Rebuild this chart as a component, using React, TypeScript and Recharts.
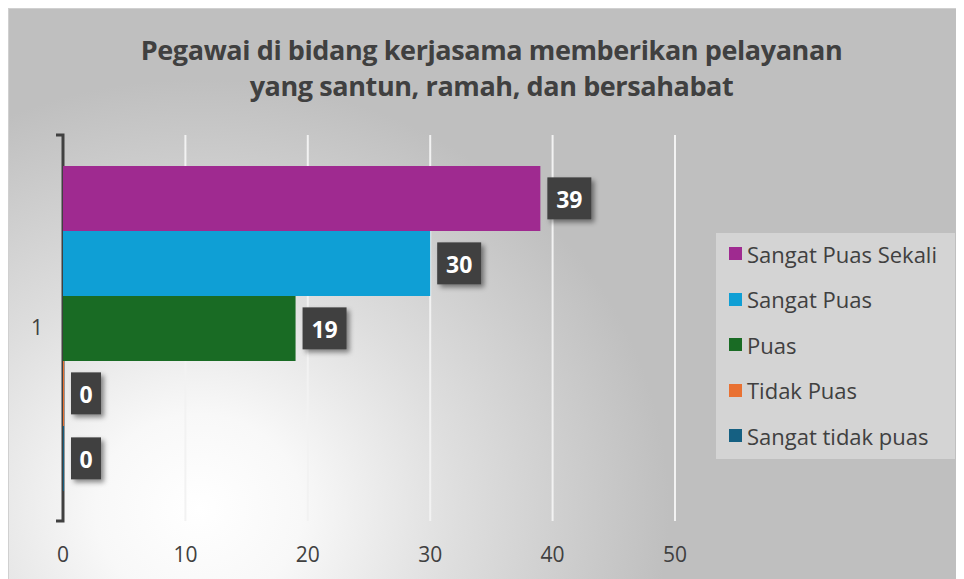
import * as R from "recharts";
import { Bar, BarChart, CartesianGrid, LabelList, XAxis, YAxis } from "recharts";

const categories = ["1"];
const seriesNames = ["Sangat Puas Sekali", "Sangat Puas", "Puas", "Tidak Puas", "Sangat tidak puas"];
const seriesValues = [39, 30, 19, 0, 0];
const seriesColors = ["#9f2a90", "#0f9fd5", "#196b24", "#e97132", "#156082"];
const xTicks = [0, 10, 20, 30, 40, 50];
const titleLines = [
  "Pegawai di bidang kerjasama memberikan pelayanan",
  "yang santun, ramah, dan bersahabat",
];

const data = categories.map((name) => {
  const row: Record<string, string | number> = { name };
  seriesNames.forEach((s, i) => {
    row[s] = seriesValues[i];
  });
  return row;
});

const FONT = "'Open Sans', 'DejaVu Sans', sans-serif";
const usePlot: any = (R as any).usePlotArea || (R as any).useOffset;

// the "]" shaped category axis, drawn over the zero-value stubs
function AxisBracket() {
  const plot = usePlot ? usePlot() : null;
  if (!plot) return null;
  const x = plot.x != null ? plot.x : plot.left;
  const y = plot.y != null ? plot.y : plot.top;
  const h = plot.height;
  if (x == null || y == null || h == null) return null;
  const ax = x;
  return (
    <path
      d={`M${ax - 7},${y} H${ax} V${y + h} H${ax - 7}`}
      stroke="#404040"
      strokeWidth={3}
      fill="none"
    />
  );
}

function Defs() {
  return (
    <defs>
      <filter id="badgeShadow" x="-30%" y="-30%" width="170%" height="170%">
        <feDropShadow dx="3" dy="3" stdDeviation="2.5" floodColor="#000" floodOpacity="0.45" />
      </filter>
    </defs>
  );
}

function ValueBadge(props: any) {
  const { x, y, width, height, value } = props;
  const text = String(value);
  const w = text.length * 14 + 16;
  const h = 42;
  const bx = Number(x) + Number(width) + 7;
  const by = Number(y) + Number(height) / 2 - h / 2;
  return (
    <g>
      <rect x={bx} y={by} width={w} height={h} fill="#404040" filter="url(#badgeShadow)" />
      <text
        x={bx + w / 2}
        y={by + h / 2 + 1}
        textAnchor="middle"
        dominantBaseline="central"
        fill="#ffffff"
        fontWeight={700}
        fontSize={23}
        fontFamily={FONT}
      >
        {text}
      </text>
    </g>
  );
}

function LegendBox() {
  return (
    <div
      style={{
        position: "absolute",
        left: 707,
        top: 224,
        background: "#d4d4d4",
        width: 239,
        height: 226,
        boxSizing: "border-box",
        padding: "0 0 0 13px",
        fontSize: 22,
        color: "#404040",
      }}
    >
      {seriesNames.map((s, i) => (
        <div key={s} style={{ display: "flex", alignItems: "center", height: 45.5, marginTop: i === 0 ? -2 : 0 }}>
          <span
            style={{ width: 13, height: 13, background: seriesColors[i], marginRight: 5, display: "inline-block" }}
          />
          <span>{s}</span>
        </div>
      ))}
    </div>
  );
}

export default function App() {
  return (
    <div
      style={{
        position: "relative",
        width: 955,
        height: 570,
        border: "1px solid #d0d0d0",
        borderRight: "none",
        borderBottom: "none",
        background:
          "radial-gradient(ellipse 470px 430px at 190px 500px, #ffffff 0%, #f8f8f8 22%, #dedede 55%, #bfbfbf 100%)",
        fontFamily: FONT,
      }}
    >
      <div
        style={{
          position: "absolute",
          left: 0,
          top: 23,
          width: 965,
          textAlign: "center",
          fontSize: 27,
          fontWeight: 700,
          color: "#404040",
          lineHeight: "36px",
          letterSpacing: -0.4,
        }}
      >
        {titleLines.map((t) => (
          <div key={t}>{t}</div>
        ))}
      </div>
      <BarChart
        width={955}
        height={570}
        data={data}
        layout="vertical"
        margin={{ top: 126, right: 289, bottom: 0, left: 0 }}
        barCategoryGap="8%"
        barGap={0}
      >
        <Defs />
        <CartesianGrid horizontal={false} stroke="#f2f2f2" strokeWidth={2} />
        <XAxis
          type="number"
          domain={[0, 50]}
          ticks={xTicks}
          axisLine={false}
          tickLine={false}
          tickSize={8}
          tickMargin={18}
          height={58}
          tick={{ fill: "#404040", fontSize: 21, fontFamily: FONT }}
        />
        <YAxis
          type="category"
          dataKey="name"
          width={54}
          axisLine={false}
          tickLine={false}
          tickMargin={14}
          tick={{ fill: "#404040", fontSize: 21, fontFamily: FONT }}
        />
        {seriesNames.map((s, i) => (
          <Bar key={s} dataKey={s} fill={seriesColors[i]} minPointSize={1} isAnimationActive={false}>
            <LabelList dataKey={s} content={ValueBadge} />
          </Bar>
        ))}
        <AxisBracket />
      </BarChart>
      <LegendBox />
    </div>
  );
}
